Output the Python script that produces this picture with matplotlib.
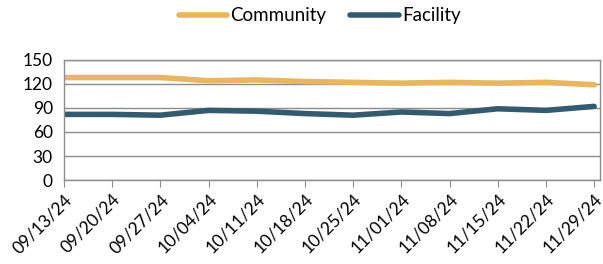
import matplotlib
matplotlib.use("Agg")
from matplotlib import pyplot as plt

# weekly dates and the two series
dates = ["09/13/24", "09/20/24", "09/27/24", "10/04/24", "10/11/24", "10/18/24",
         "10/25/24", "11/01/24", "11/08/24", "11/15/24", "11/22/24", "11/29/24"]
community = [128, 128, 128, 124, 125, 123, 122, 121, 122, 121, 122, 119]
facility = [82, 82, 81, 87, 86, 83, 81, 85, 83, 89, 87, 92]

plt.rcParams['font.family'] = ['Lato', 'DejaVu Sans']

fig = plt.figure(figsize=(6.03, 2.64), dpi=100)
ax = fig.add_axes([0.106, 0.318, 0.889, 0.455])

x = list(range(len(dates)))
ax.plot(x, community, color='#E8B560', lw=4, solid_joinstyle='round',
        solid_capstyle='round', label='Community')
ax.plot(x, facility, color='#345A70', lw=4, solid_joinstyle='round',
        solid_capstyle='round', label='Facility')

ax.set_ylim(0, 150)
ax.set_yticks(range(0, 151, 30))
ax.set_xlim(0, 11.12)
ax.set_xticks(x)
ax.set_xticklabels(dates, rotation=45, ha='right', rotation_mode='anchor')

ax.grid(axis='y', color='#8c8c8c', lw=1)
ax.set_axisbelow(True)
for s in ax.spines.values():
    s.set_color('#8c8c8c')
    s.set_linewidth(1)
ax.tick_params(axis='y', length=0, labelsize=12.5, pad=8)
ax.tick_params(axis='x', length=5, color='#8c8c8c', labelsize=12.5, pad=3)

fig.legend(loc='center', bbox_to_anchor=(0.53, 0.94), ncol=2, frameon=False,
           fontsize=13.5, handlelength=2.6, handletextpad=0.15, columnspacing=1.3)

fig.savefig("out.png", dpi=100)
